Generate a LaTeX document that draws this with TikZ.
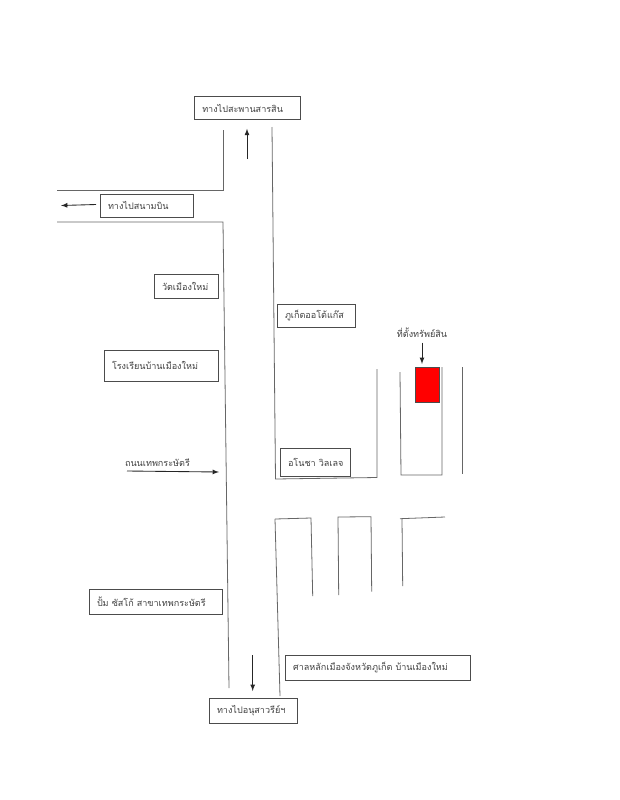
\documentclass[tikz,border=0pt]{standalone}
\usepackage{fontspec}
\newfontfamily\thaifont[Script=Thai]{Loma}
\usetikzlibrary{positioning}

\begin{document}
\begin{tikzpicture}[
    x=0.75pt,y=-0.75pt,
    font=\thaifont\fontsize{6.8}{9}\selectfont,
    text=black!75,
    placebox/.style 2 args={draw=black!70,line width=0.5pt,inner xsep=6pt,inner ysep=0pt,
        text width=#1*0.75pt-12pt,minimum height=#2*0.75pt,align=left},
    road/.style={draw=black!60,line width=0.6pt},
    pointer/.style={-latex,draw=black!85,line width=0.65pt}
    ]

    \useasboundingbox (0,0) rectangle (619,800);

    % labels
    \node[placebox={106.5}{23.5}] (sarasin) at (247.5,108) {ทางไปสะพานสารสิน};
    \node[placebox={93}{23}] (airport) at (146.5,205.5) {ทางไปสนามบิน};
    \node[placebox={64}{24}] (wat) at (186,286) {วัดเมืองใหม่};
    \node[placebox={114}{31}] (school) at (161,365.5) {โรงเรียนบ้านเมืองใหม่};
    \node[placebox={78}{23}] (gas) at (316,315.5) {ภูเก็ตออโต้แก๊ส};
    \node[placebox={70}{28}] (anocha) at (315,462) {อโนชา~วิลเลจ};
    \node[placebox={133}{25}] (susco) at (155.5,601.5) {ปั้ม~ซัสโก้~สาขาเทพกระษัตรี};
    \node[placebox={185}{25}] (shrine) at (377.5,667.5) {ศาลหลักเมืองจังหวัดภูเก็ต~บ้านเมืองใหม่};
    \node[placebox={88}{25}] (monument) at (253,710.5) {ทางไปอนุสาวรีย์ฯ};
    \node (roadname) at (157.5,463) {ถนนเทพกระษัตรี};
    \node (sitename) at (422,333) {ที่ตั้งทรัพย์สิน};
    \node[draw=black!70,fill=red,line width=0.6pt,minimum width=18pt,minimum height=26.25pt,inner sep=0pt] (site) at (427,384.5) {};

    \coordinate (upstart) at (247,159);
    \coordinate (downstart) at (252.7,655);
    \coordinate (roadstart) at (127,471);
    \coordinate (roadtip) at (219,472);
    \coordinate (airstart) at (96,204.5);
    \coordinate (airtip) at (61,205.5);

    % main road
    \draw[road] (223,130) -- (223,190) -- (57,190);
    \draw[road] (57,222) -- (223,222) -- (229,688);
    \draw[road] (272,127) -- (275.5,479) -- (377,477.5) -- (377,369);
    \draw[road] (275,519) -- (280,696);

    % side streets
    \draw[road] (400,372) -- (401,475) -- (442,475) -- (442,367);
    \draw[road] (462,367) -- (462,474);
    \draw[road] (275,519) -- (311,518) -- (312.7,596);
    \draw[road] (338.7,595) -- (338,517) -- (371,516.7) -- (371.7,591.7);
    \draw[road] (402.7,586) -- (402,519);
    \draw[road] (400,518.7) -- (445,517);

    % arrows
    \draw[pointer,shorten >=6.5pt] (upstart) -- (sarasin.south -| upstart);
    \draw[pointer] (airstart) -- (airtip);
    \draw[pointer] (roadstart) -- (roadtip);
    \draw[pointer,shorten >=5pt] (downstart) -- (monument.north -| downstart);
    \draw[pointer,shorten >=2pt] (sitename.south -| 422,0) -- (site.north -| 422,0);

\end{tikzpicture}
\end{document}
